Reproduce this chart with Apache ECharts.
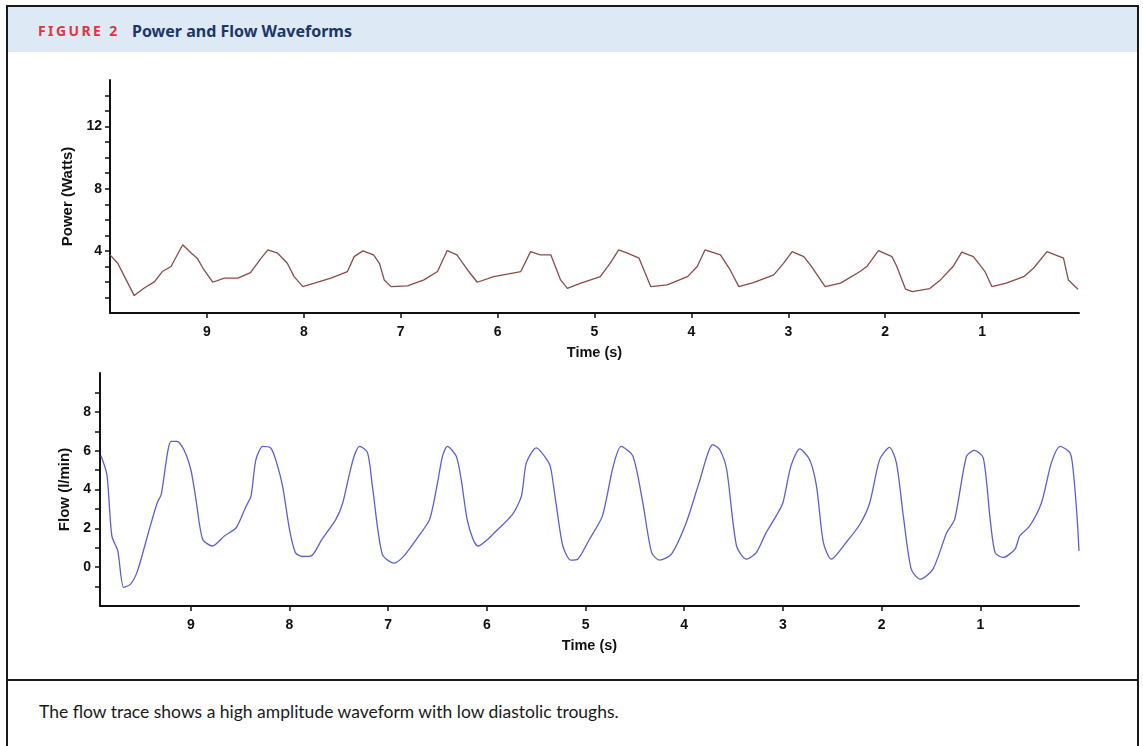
<!DOCTYPE html>
<html>
<head>
<meta charset="utf-8">
<script src="https://cdn.jsdelivr.net/npm/echarts@6/dist/echarts.min.js"></script>
<style>
  html, body { margin: 0; padding: 0; background: #fff; }
  #wrap { position: relative; width: 1143px; height: 746px; overflow: hidden; }
  #box { position: absolute; left: 6px; top: 5px; width: 1129px; height: 800px; border: 2px solid #1a1a1a; }
  #hdr { position: absolute; left: 8px; top: 7px; width: 1129px; height: 45px; background: #dde9f5; }
  #hdr .fig { position: absolute; left: 30px; top: 15px; font: bold 14px "Noto Sans", "Open Sans", sans-serif; color: #e2343f; letter-spacing: 2.4px; line-height: 18px; }
  #hdr .ttl { position: absolute; left: 124px; top: 14px; font: bold 16px "Noto Sans", "Open Sans", sans-serif; color: #1b3768; line-height: 20px; }
  #sep { position: absolute; left: 6px; top: 679px; width: 1133px; height: 2px; background: #1a1a1a; }
  #cap { position: absolute; left: 39px; top: 701px; font: 17.5px Lato, "Noto Sans", sans-serif; color: #1a1a1a; line-height: 22px; }
  #chart { position: absolute; left: 0; top: 0; width: 1143px; height: 746px; }
</style>
</head>
<body>
<div id="wrap">
  <div id="box"></div>
  <div id="hdr"><span class="fig">FIGURE 2</span><span class="ttl">Power and Flow Waveforms</span></div>
  <div id="sep"></div>
  <div id="cap">The flow trace shows a high amplitude waveform with low diastolic troughs.</div>
  <div id="chart"></div>
</div>
<script>
// ---- data (time in seconds) ----
const powerTime = [10.00, 9.92, 9.85, 9.75, 9.65, 9.54, 9.46, 9.37, 9.25, 9.16, 9.10, 9.04, 8.94, 8.82, 8.68, 8.55, 8.44, 8.37, 8.27, 8.17, 8.10, 8.01, 7.89, 7.72, 7.55, 7.48, 7.39, 7.28, 7.22, 7.17, 7.10, 6.93, 6.76, 6.62, 6.52, 6.42, 6.31, 6.21, 6.04, 5.76, 5.66, 5.56, 5.45, 5.35, 5.28, 5.14, 4.94, 4.84, 4.75, 4.66, 4.54, 4.42, 4.25, 4.04, 3.94, 3.86, 3.70, 3.60, 3.51, 3.36, 3.15, 3.05, 2.96, 2.84, 2.76, 2.62, 2.46, 2.26, 2.19, 2.07, 1.93, 1.88, 1.79, 1.72, 1.54, 1.43, 1.30, 1.21, 1.09, 0.97, 0.90, 0.75, 0.57, 0.47, 0.33, 0.16, 0.11, 0.01];
const powerWatts = [3.74, 3.20, 2.34, 1.12, 1.59, 2.02, 2.67, 2.99, 4.39, 3.85, 3.53, 2.88, 1.98, 2.24, 2.24, 2.60, 3.53, 4.06, 3.85, 3.20, 2.34, 1.70, 1.92, 2.24, 2.67, 3.63, 4.00, 3.74, 3.20, 2.13, 1.70, 1.74, 2.13, 2.67, 4.02, 3.74, 2.77, 1.98, 2.34, 2.67, 3.95, 3.74, 3.74, 2.13, 1.59, 1.92, 2.34, 3.20, 4.06, 3.85, 3.53, 1.70, 1.81, 2.34, 2.99, 4.06, 3.74, 2.77, 1.70, 1.96, 2.45, 3.20, 3.95, 3.63, 2.99, 1.70, 1.92, 2.67, 2.99, 4.02, 3.63, 2.99, 1.53, 1.38, 1.57, 2.13, 2.99, 3.92, 3.63, 2.67, 1.70, 1.92, 2.34, 2.88, 3.95, 3.53, 2.13, 1.53];

const flowTime = [9.91, 9.85, 9.80, 9.74, 9.68, 9.61, 9.54, 9.42, 9.34, 9.30, 9.20, 9.14, 9.07, 9.00, 8.95, 8.88, 8.78, 8.66, 8.54, 8.44, 8.39, 8.34, 8.27, 8.19, 8.14, 8.07, 8.00, 7.94, 7.87, 7.78, 7.67, 7.53, 7.46, 7.39, 7.34, 7.29, 7.21, 7.16, 7.06, 6.94, 6.84, 6.69, 6.58, 6.50, 6.45, 6.40, 6.31, 6.26, 6.20, 6.14, 6.09, 5.99, 5.94, 5.74, 5.65, 5.60, 5.50, 5.38, 5.35, 5.30, 5.23, 5.15, 5.08, 4.96, 4.83, 4.72, 4.64, 4.52, 4.42, 4.33, 4.25, 4.13, 3.98, 3.85, 3.71, 3.64, 3.57, 3.47, 3.37, 3.27, 3.17, 3.07, 3.00, 2.92, 2.83, 2.73, 2.66, 2.59, 2.51, 2.36, 2.22, 2.12, 2.02, 1.92, 1.85, 1.78, 1.70, 1.61, 1.48, 1.34, 1.26, 1.14, 1.06, 0.97, 0.90, 0.85, 0.77, 0.65, 0.60, 0.50, 0.38, 0.28, 0.19, 0.09, 0.06, 0.02, 0.00];
const flowLmin = [5.74, 4.77, 1.61, 0.84, -1.04, -0.87, -0.19, 1.95, 3.32, 3.74, 6.48, 6.48, 6.05, 5.03, 3.57, 1.44, 1.09, 1.61, 2.03, 3.14, 3.66, 5.54, 6.22, 6.14, 5.54, 4.17, 1.95, 0.75, 0.55, 0.58, 1.44, 2.46, 3.32, 4.86, 5.79, 6.22, 5.91, 4.17, 0.67, 0.21, 0.58, 1.61, 2.46, 4.34, 5.71, 6.22, 5.71, 4.51, 2.46, 1.44, 1.09, 1.44, 1.69, 2.72, 3.66, 5.37, 6.14, 5.45, 5.03, 3.32, 1.09, 0.36, 0.41, 1.44, 2.63, 5.19, 6.22, 5.71, 3.32, 0.75, 0.36, 0.67, 2.29, 4.34, 6.31, 6.05, 5.03, 1.09, 0.41, 0.75, 1.78, 2.63, 3.32, 5.19, 6.09, 5.54, 4.17, 1.27, 0.41, 1.27, 2.21, 3.32, 5.54, 6.17, 5.37, 2.63, -0.10, -0.62, -0.10, 1.78, 2.46, 5.71, 6.02, 5.63, 2.46, 0.75, 0.50, 0.92, 1.61, 2.12, 3.32, 5.37, 6.22, 5.88, 5.03, 2.63, 0.84];

const timeTicks = [1, 2, 3, 4, 5, 6, 7, 8, 9];
const powerTicks = [1, 2, 3, 4, 5, 6, 7, 8, 9, 10, 11, 12, 13, 14];
const powerLabels = [4, 8, 12];
const flowTicks = [-1, 0, 1, 2, 3, 4, 5, 6, 7, 8, 9];
const flowLabels = [0, 2, 4, 6, 8];

const powerData = powerTime.map((t, i) => [t, powerWatts[i]]);
const flowData = flowTime.map((t, i) => [t, flowLmin[i]]);

const ink = '#111';
const lblFont = { color: ink, fontFamily: 'Liberation Sans, Arial, sans-serif', fontWeight: 'bold', fontSize: 14 };

function xAx(gi, max, gap) {
  return {
    gridIndex: gi, type: 'value', min: 0, max: max, inverse: true, position: 'bottom',
    name: 'Time (s)', nameLocation: 'middle', nameGap: gap,
    nameTextStyle: Object.assign({}, lblFont, { fontSize: 14.5 }),
    axisLine: { show: true, onZero: false, lineStyle: { color: ink, width: 2 } },
    axisTick: { show: true, length: 5, lineStyle: { color: ink, width: 1.5 }, customValues: timeTicks },
    axisLabel: Object.assign({ margin: 12, customValues: timeTicks }, lblFont),
    splitLine: { show: false }
  };
}
function yAx(gi, min, max, name, gap, ticks, labels, margin) {
  return {
    gridIndex: gi, type: 'value', min: min, max: max, position: 'left',
    name: name, nameLocation: 'middle', nameGap: gap,
    nameTextStyle: Object.assign({}, lblFont, { fontSize: 15 }),
    axisLine: { show: true, onZero: false, lineStyle: { color: ink, width: 2 } },
    axisTick: { show: true, length: 5, lineStyle: { color: ink, width: 1.5 }, customValues: ticks },
    axisLabel: Object.assign({ margin: margin, customValues: labels }, lblFont),
    splitLine: { show: false }
  };
}

const chart = echarts.init(document.getElementById('chart'), null, { renderer: 'canvas' });
chart.setOption({
  animation: false,
  backgroundColor: 'transparent',
  grid: [
    { left: 110, right: 64, top: 80, height: 233 },
    { left: 100, right: 64, top: 373, height: 233 }
  ],
  xAxis: [xAx(0, 10, 32), xAx(1, 9.92, 32)],
  yAxis: [
    yAx(0, 0, 15, 'Power (Watts)', 32, powerTicks, powerLabels, 8),
    yAx(1, -2, 10, 'Flow (l/min)', 22, flowTicks, flowLabels, 9)
  ],
  series: [
    { type: 'line', xAxisIndex: 0, yAxisIndex: 0, data: powerData, showSymbol: false, smooth: false,
      lineStyle: { color: '#8c4b47', width: 1.3 } },
    { type: 'line', xAxisIndex: 1, yAxisIndex: 1, data: flowData, showSymbol: false, smooth: 0.25,
      lineStyle: { color: '#5a60d4', width: 1.3 } }
  ]
});
</script>
</body>
</html>
